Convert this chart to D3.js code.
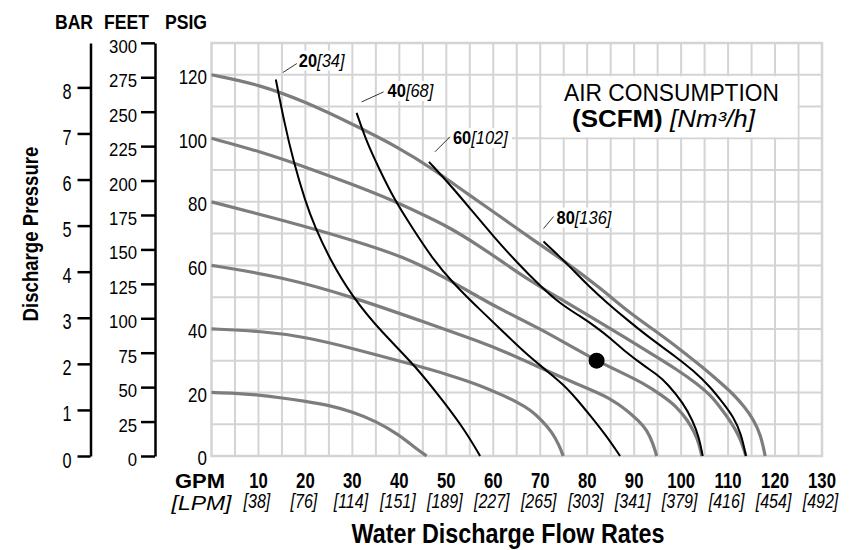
<!DOCTYPE html>
<html>
<head>
<meta charset="utf-8">
<script src="https://cdn.jsdelivr.net/npm/d3@7"></script>
<style>
  body { margin: 0; background: #fff; }
  svg { display: block; }
  text { font-family: 'Liberation Sans', Arial, sans-serif; }
</style>
</head>
<body>
<svg id="chart" width="862" height="550"></svg>
<script>
/* ------------ Data ----------------*/
const gpmTicks = [10, 20, 30, 40, 50, 60, 70, 80, 90, 100, 110, 120, 130];
const lpmTicks = [38, 76, 114, 151, 189, 227, 265, 303, 341, 379, 416, 454, 492];
const psiTicks = [0, 20, 40, 60, 80, 100, 120];
const feetTicks = [0, 25, 50, 75, 100, 125, 150, 175, 200, 225, 250, 275, 300];
const barTicks = [0, 1, 2, 3, 4, 5, 6, 7, 8];

// discharge pressure curves (gray), [gpm, psig]
const air20 = [[0, 20], [5, 19.8], [10, 19.2], [15, 18.3], [20, 17.2], [25, 16], [30, 13.9], [35, 11], [40, 6.6], [43, 3], [45.8, 0]];
const air40 = [[0, 40], [10, 39.4], [20, 37.5], [30, 33.9], [43.3, 28.6], [50, 25.8], [57.2, 22.3], [62.5, 18.8], [65, 17], [68, 14.5], [70.5, 11], [72.5, 7.5], [74, 3.5], [74.9, 0]];
const air60 = [[0, 60], [15, 56.4], [30, 50.1], [45, 42.3], [57.2, 36], [62.5, 32.8], [70, 27.8], [74.2, 25], [81.3, 20.5], [85, 18], [88.4, 14.5], [91, 11], [92.7, 8.2], [94, 4], [94.8, 0]];
const air80 = [[0, 80], [15, 74.3], [30, 68], [41, 62.7], [50, 56], [57.2, 49.7], [62.5, 45.5], [70, 40], [74.2, 36.5], [82, 30], [87, 26.5], [92, 22.9], [96, 19], [99.1, 15.5], [101.5, 11], [102.8, 7.5], [103.8, 4], [104.4, 0]];
const air100 = [[0, 100], [10, 96], [20, 91], [30, 85.5], [38.4, 80.6], [45, 76], [50, 72.5], [57.2, 66], [62.5, 60.5], [68, 55], [74.2, 49.5], [80, 44.5], [85, 40], [90, 35.5], [95, 31], [99, 27.3], [103, 23.2], [106.2, 19.3], [108.5, 15], [110.5, 11], [112.5, 6], [113.8, 0]];
const air120 = [[0, 120], [10, 117], [20, 111.5], [30, 104.5], [40, 97], [47, 90.5], [55, 82], [60.4, 76.5], [68, 68.5], [75, 61.5], [82.7, 53], [89, 45], [95.5, 38.4], [100, 33.3], [104.7, 27.8], [108, 23.6], [111.1, 19.5], [113.5, 15.5], [115.4, 11.5], [117, 6.5], [117.9, 0]];

// air consumption curves (black), [gpm, psig]
const scfm20 = [[13.7, 118.5], [15.5, 105], [17.4, 93], [20, 80], [22, 72.2], [25, 62.5], [30, 50], [36.2, 39], [43.3, 28.6], [49.7, 16.6], [54, 8], [57.2, 0]];
const scfm40 = [[30.9, 108], [33, 99], [35.5, 91], [39, 80.5], [42.6, 72.2], [47, 62.2], [51.5, 54.3], [57.2, 46], [62.5, 38.6], [66, 33.5], [70.7, 27.6], [75, 22.5], [78, 17.5], [80.6, 12.8], [84, 6.5], [87, 0]];
const scfm60 = [[46.3, 92.6], [51.2, 84.7], [55, 78], [60.4, 68.5], [65, 61], [70, 53.5], [74.2, 48], [78.5, 44], [82, 40.5], [85, 37], [88, 33], [92, 28.5], [95, 25.5], [97, 22.9], [100.5, 16.6], [102.5, 11], [103.8, 6], [104.6, 0]];
const scfm80 = [[70.7, 67.5], [74, 63], [77, 58.5], [80.3, 53.5], [84, 48.5], [88.4, 43], [93, 37.5], [99.1, 31], [102.5, 27], [106.2, 21.8], [109, 16.5], [111.1, 12.4], [112.8, 7], [113.8, 0]];

const scfmValues = [20, 40, 60, 80];
const nm3Values = [34, 68, 102, 136];
const operatingPoint = [82, 30];

/* ------------ Layout ----------------*/
const svg = d3.select('#chart');
const x = d3.scaleLinear().domain([0, 130]).range([211.5, 822]);
const y = d3.scaleLinear().domain([0, 130]).range([456, 43]);
const psiPerBar = 14.5038;
const psiPerFoot = 0.4335;
const yBar = d3.scaleLinear().domain([0, 130 / psiPerBar]).range([456, 43]);
const yFeet = d3.scaleLinear().domain([0, 130 / psiPerFoot]).range([456, 43]);

const gridColor = '#d4d4d4';
const grayCurve = '#7d7d7d';

// label leader offsets from the first point of each black curve [dx1, dy1, dx2, dy2]
const leaders = [[7, -7, 21, -16], [5, -11, 27, -21], [6, -10, 21, -25], [0, -13, 10, -25]];
const labelShift = [[2, 3], [4, 5], [3, 7], [3, 7]];

// squeeze text horizontally round its x, to mimic a condensed face
const condense = (sel, s) => {
  sel.each(function () {
    const t = d3.select(this);
    const x0 = +t.attr('x') || 0;
    t.attr('transform', `translate(${x0 * (1 - s)},0) scale(${s},1)`);
  });
};

/* ------------ Grid ----------------*/
const grid = svg.append('g').attr('class', 'grid');
grid.selectAll('.vgrid')
  .data(d3.range(5, 130, 5))
  .join('line')
  .attr('class', 'vgrid')
  .attr('x1', d => x(d))
  .attr('x2', d => x(d))
  .attr('y1', y(0))
  .attr('y2', y(130))
  .attr('stroke', gridColor)
  .attr('stroke-width', 2);
grid.selectAll('.hgrid')
  .data(d3.range(10, 130, 10))
  .join('line')
  .attr('class', 'hgrid')
  .attr('x1', x(0))
  .attr('x2', x(130))
  .attr('y1', d => y(d))
  .attr('y2', d => y(d))
  .attr('stroke', gridColor)
  .attr('stroke-width', 2);
grid.append('rect')
  .attr('x', x(0))
  .attr('y', y(130))
  .attr('width', x(130) - x(0))
  .attr('height', y(0) - y(130))
  .attr('fill', 'none')
  .attr('stroke', gridColor)
  .attr('stroke-width', 2.5);

// legend box covers the grid
svg.append('rect')
  .attr('x', x(70) + 1.5)
  .attr('y', y(120) + 1.5)
  .attr('width', x(125) - x(70) - 2.5)
  .attr('height', y(100) - y(120) - 2.5)
  .attr('fill', '#fff');

/* ------------ Curves ----------------*/
const line = d3.line()
  .x(d => x(d[0]))
  .y(d => y(d[1]))
  .curve(d3.curveBasis);

const airCurves = [air20, air40, air60, air80, air100, air120];
svg.append('g')
  .selectAll('path')
  .data(airCurves)
  .join('path')
  .attr('d', line)
  .attr('fill', 'none')
  .attr('stroke', grayCurve)
  .attr('stroke-width', 3.2);

const scfmCurves = [scfm20, scfm40, scfm60, scfm80];
svg.append('g')
  .selectAll('path')
  .data(scfmCurves)
  .join('path')
  .attr('d', line)
  .attr('fill', 'none')
  .attr('stroke', '#000')
  .attr('stroke-width', 2);

svg.append('circle')
  .attr('cx', x(operatingPoint[0]))
  .attr('cy', y(operatingPoint[1]))
  .attr('r', 8)
  .attr('fill', '#000');

/* ------------ Curve labels ----------------*/
const labelScale = 0.94;
scfmCurves.forEach((c, i) => {
  const x0 = x(c[0][0]);
  const y0 = y(c[0][1]);
  const l = leaders[i];
  const tx = x0 + l[2] + labelShift[i][0];
  const g = svg.append('g');
  const t = g.append('text')
    .attr('x', tx)
    .attr('y', y0 + l[3] + labelShift[i][1])
    .attr('font-size', '17.5px');
  t.append('tspan').attr('font-weight', 'bold').text(scfmValues[i]);
  t.append('tspan').attr('font-style', 'italic').text(`[${nm3Values[i]}]`);
  const bb = t.node().getBBox();
  condense(t, labelScale);
  g.insert('rect', 'text')
    .attr('x', tx + (bb.x - tx) * labelScale - 3)
    .attr('y', bb.y)
    .attr('width', bb.width * labelScale + 6)
    .attr('height', bb.height)
    .attr('fill', '#fff');
  g.append('line')
    .attr('x1', x0 + l[0])
    .attr('y1', y0 + l[1])
    .attr('x2', x0 + l[2])
    .attr('y2', y0 + l[3])
    .attr('stroke', '#000')
    .attr('stroke-width', 0.8);
});

/* ------------ Legend ----------------*/
svg.append('text')
  .attr('x', 564)
  .attr('y', 101)
  .attr('font-size', '23px')
  .attr('textLength', 215)
  .attr('lengthAdjust', 'spacingAndGlyphs')
  .text('AIR CONSUMPTION');
const leg = svg.append('text')
  .attr('x', 572)
  .attr('y', 127)
  .attr('font-size', '23px')
  .attr('textLength', 183)
  .attr('lengthAdjust', 'spacingAndGlyphs');
leg.append('tspan').attr('font-weight', 'bold').text('(SCFM) ');
leg.append('tspan').attr('font-style', 'italic').text('[Nm³/h]');

/* ------------ Axes ----------------*/
const styleAxis = (g, size, s, dy) => {
  g.select('.domain').attr('stroke-width', 2.5);
  g.selectAll('.tick line').attr('stroke-width', 2.5);
  g.selectAll('.tick text')
    .attr('font-size', size)
    .attr('fill', '#000')
    .attr('dy', dy)
    .call(condense, s);
};

const barAxis = svg.append('g')
  .attr('transform', 'translate(90.5,0)')
  .call(d3.axisLeft(yBar).tickValues(barTicks).tickSize(13).tickSizeOuter(0).tickPadding(6));
styleAxis(barAxis, '22px', 0.74, '11px');

const feetAxis = svg.append('g')
  .attr('transform', 'translate(155,0)')
  .call(d3.axisLeft(yFeet).tickValues(feetTicks).tickSize(14).tickSizeOuter(0).tickPadding(4));
styleAxis(feetAxis, '18px', 0.93, '9.5px');

svg.append('g')
  .selectAll('text')
  .data(psiTicks)
  .join('text')
  .attr('x', 207)
  .attr('y', d => y(d))
  .attr('dy', '9.5px')
  .attr('text-anchor', 'end')
  .attr('font-size', '20px')
  .text(d => d)
  .call(condense, 0.85);

const headers = [['BAR', 74], ['FEET', 126.5], ['PSIG', 186]];
svg.append('g')
  .selectAll('text')
  .data(headers)
  .join('text')
  .attr('x', d => d[1])
  .attr('y', 29)
  .attr('text-anchor', 'middle')
  .attr('font-size', '20px')
  .attr('font-weight', 'bold')
  .text(d => d[0])
  .call(condense, 0.88);

svg.append('text')
  .attr('transform', 'translate(37.5,234) rotate(-90) scale(0.81,1)')
  .attr('text-anchor', 'middle')
  .attr('font-size', '23px')
  .attr('font-weight', 'bold')
  .text('Discharge Pressure');

// bottom axis labels
svg.append('g')
  .selectAll('text')
  .data(gpmTicks)
  .join('text')
  .attr('x', d => x(d))
  .attr('y', 488)
  .attr('text-anchor', 'middle')
  .attr('font-size', '22px')
  .attr('font-weight', 'bold')
  .text(d => d)
  .call(condense, 0.76);

svg.append('g')
  .selectAll('text')
  .data(lpmTicks)
  .join('text')
  .attr('x', (d, i) => x(gpmTicks[i]) - 1.5)
  .attr('y', 508)
  .attr('text-anchor', 'middle')
  .attr('font-size', '20px')
  .attr('font-style', 'italic')
  .text(d => `[${d}]`)
  .call(condense, 0.8);

svg.append('text')
  .attr('x', 200)
  .attr('y', 487.5)
  .attr('text-anchor', 'middle')
  .attr('font-size', '21px')
  .attr('font-weight', 'bold')
  .attr('textLength', 50)
  .attr('lengthAdjust', 'spacingAndGlyphs')
  .text('GPM');

svg.append('text')
  .attr('x', 201.5)
  .attr('y', 509.5)
  .attr('text-anchor', 'middle')
  .attr('font-size', '21px')
  .attr('font-style', 'italic')
  .attr('textLength', 60)
  .attr('lengthAdjust', 'spacingAndGlyphs')
  .text('[LPM]');

svg.append('text')
  .attr('x', 508)
  .attr('y', 543)
  .attr('text-anchor', 'middle')
  .attr('font-size', '27px')
  .attr('font-weight', 'bold')
  .attr('textLength', 313)
  .attr('lengthAdjust', 'spacingAndGlyphs')
  .text('Water Discharge Flow Rates');
</script>
</body>
</html>
